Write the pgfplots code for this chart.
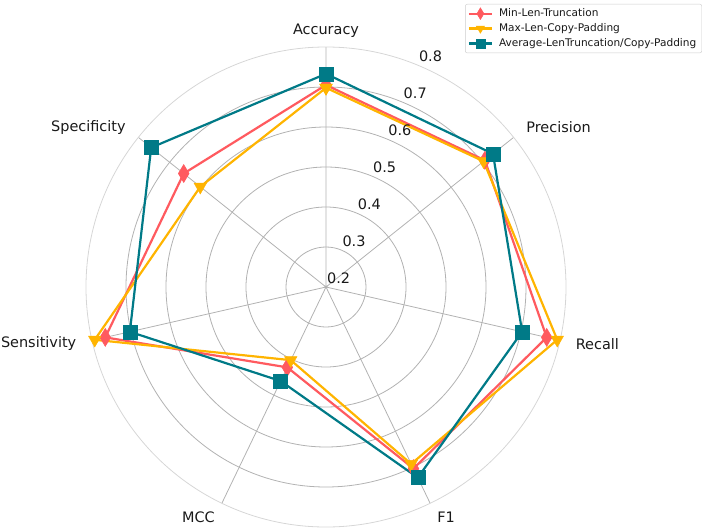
\documentclass[border=0pt]{standalone}
\usepackage{fontspec}
\setmainfont{DejaVu Sans}
\usepackage{pgfplots}
\pgfplotsset{compat=1.18}
\usepackage{pgfplotstable}
\usepgfplotslibrary{polar}

\definecolor{cred}{HTML}{FF5A5F}
\definecolor{cyel}{HTML}{FFB400}
\definecolor{cteal}{HTML}{007A87}

% angle (deg, clockwise from top), values for each method
\pgfplotstableread{
angle    minlen maxlen avglen
90       0.705  0.698  0.733
38.5714  0.708  0.704  0.734
347.1429 0.766  0.793  0.703
295.7143 0.704  0.691  0.729
244.2857 0.423  0.403  0.461
192.8571 0.766  0.793  0.703
141.4286 0.655  0.602  0.759
90       0.705  0.698  0.733
}\radar

\tikzset{
  catlab/.style={font=\fontsize{14.5}{17}\selectfont, inner sep=0pt, text=black!90},
  rlab/.style={font=\fontsize{14.5}{17}\selectfont, inner sep=0pt, anchor=base west, xshift=1bp, yshift=4bp, text=black!90},
}

\begin{document}
\begin{tikzpicture}
\begin{polaraxis}[
  at={(326bp,-287bp)}, anchor=center,
  width=480bp, height=480bp, scale only axis,
  xmin=0, xmax=360, ymin=0, ymax=0.6,
  xtick={90,38.5714,347.1429,295.7143,244.2857,192.8571,141.4286},
  ytick={0.1,0.2,0.3,0.4,0.5},
  xticklabels={}, yticklabels={},
  xmajorgrids, ymajorgrids,
  major grid style={draw=black!30, line width=0.8bp},
  x axis line style={draw=black!16, line width=0.8bp},
  y axis line style={draw=none},
  tick style={draw=none},
  clip=false,
  legend style={at={(1.2833,1.0896)}, anchor=north east, draw=black!20,
    rounded corners=2bp, font=\fontsize{10.6}{12}\selectfont, text=black!90,
    cells={anchor=west}, inner xsep=2.5bp, inner ysep=2bp, row sep=0bp,
    nodes={inner ysep=2.7bp, inner xsep=3bp}},
  legend image code/.code={
    \draw[mark repeat=2, mark phase=2, every mark/.append style={scale=0.65}]
      plot coordinates {(0bp,0bp) (11.5bp,0bp) (23bp,0bp)};
    \path (26bp,0bp);
  },
]
\addplot[cred, line width=2.2bp, mark=diamond*, mark size=9bp,
  mark options={xscale=0.8, solid, fill=cred, line width=0.5bp}]
  table[x=angle, y expr=\thisrow{minlen}-0.2] {\radar};
\addlegendentry{Min-Len-Truncation}
\addplot[cyel, line width=2.2bp, mark=triangle*, mark size=7.2bp,
  mark options={rotate=180, solid, fill=cyel, line width=0.5bp}]
  table[x=angle, y expr=\thisrow{maxlen}-0.2] {\radar};
\addlegendentry{Max-Len-Copy-Padding}
\addplot[cteal, line width=2.2bp, mark=square*, mark size=7bp,
  mark options={solid, fill=cteal, line width=0.5bp}]
  table[x=angle, y expr=\thisrow{avglen}-0.2] {\radar};
\addlegendentry{Average-LenTruncation/Copy-Padding}

% radial tick labels
\node[rlab] at (axis cs:67.5,0.0) {0.2};
\node[rlab] at (axis cs:67.5,0.1) {0.3};
\node[rlab] at (axis cs:67.5,0.2) {0.4};
\node[rlab] at (axis cs:67.5,0.3) {0.5};
\node[rlab] at (axis cs:67.5,0.4) {0.6};
\node[rlab] at (axis cs:67.5,0.5) {0.7};
\node[rlab] at (axis cs:67.5,0.6) {0.8};

% category labels
\node[catlab, anchor=center] at (axis cs:90,0.64) {Accuracy};
\node[catlab, anchor=west] at (axis cs:38.5714,0.64) {Precision};
\node[catlab, anchor=west] at (axis cs:347.1429,0.64) {Recall};
\node[catlab, anchor=west] at (axis cs:295.7143,0.64) {F1};
\node[catlab, anchor=east] at (axis cs:244.2857,0.64) {MCC};
\node[catlab, anchor=east] at (axis cs:192.8571,0.64) {Sensitivity};
\node[catlab, anchor=east] at (axis cs:141.4286,0.64) {Specificity};
\end{polaraxis}
\pgfresetboundingbox
\path[use as bounding box] (0bp,0bp) rectangle (708bp,-529bp);
\end{tikzpicture}
\end{document}
